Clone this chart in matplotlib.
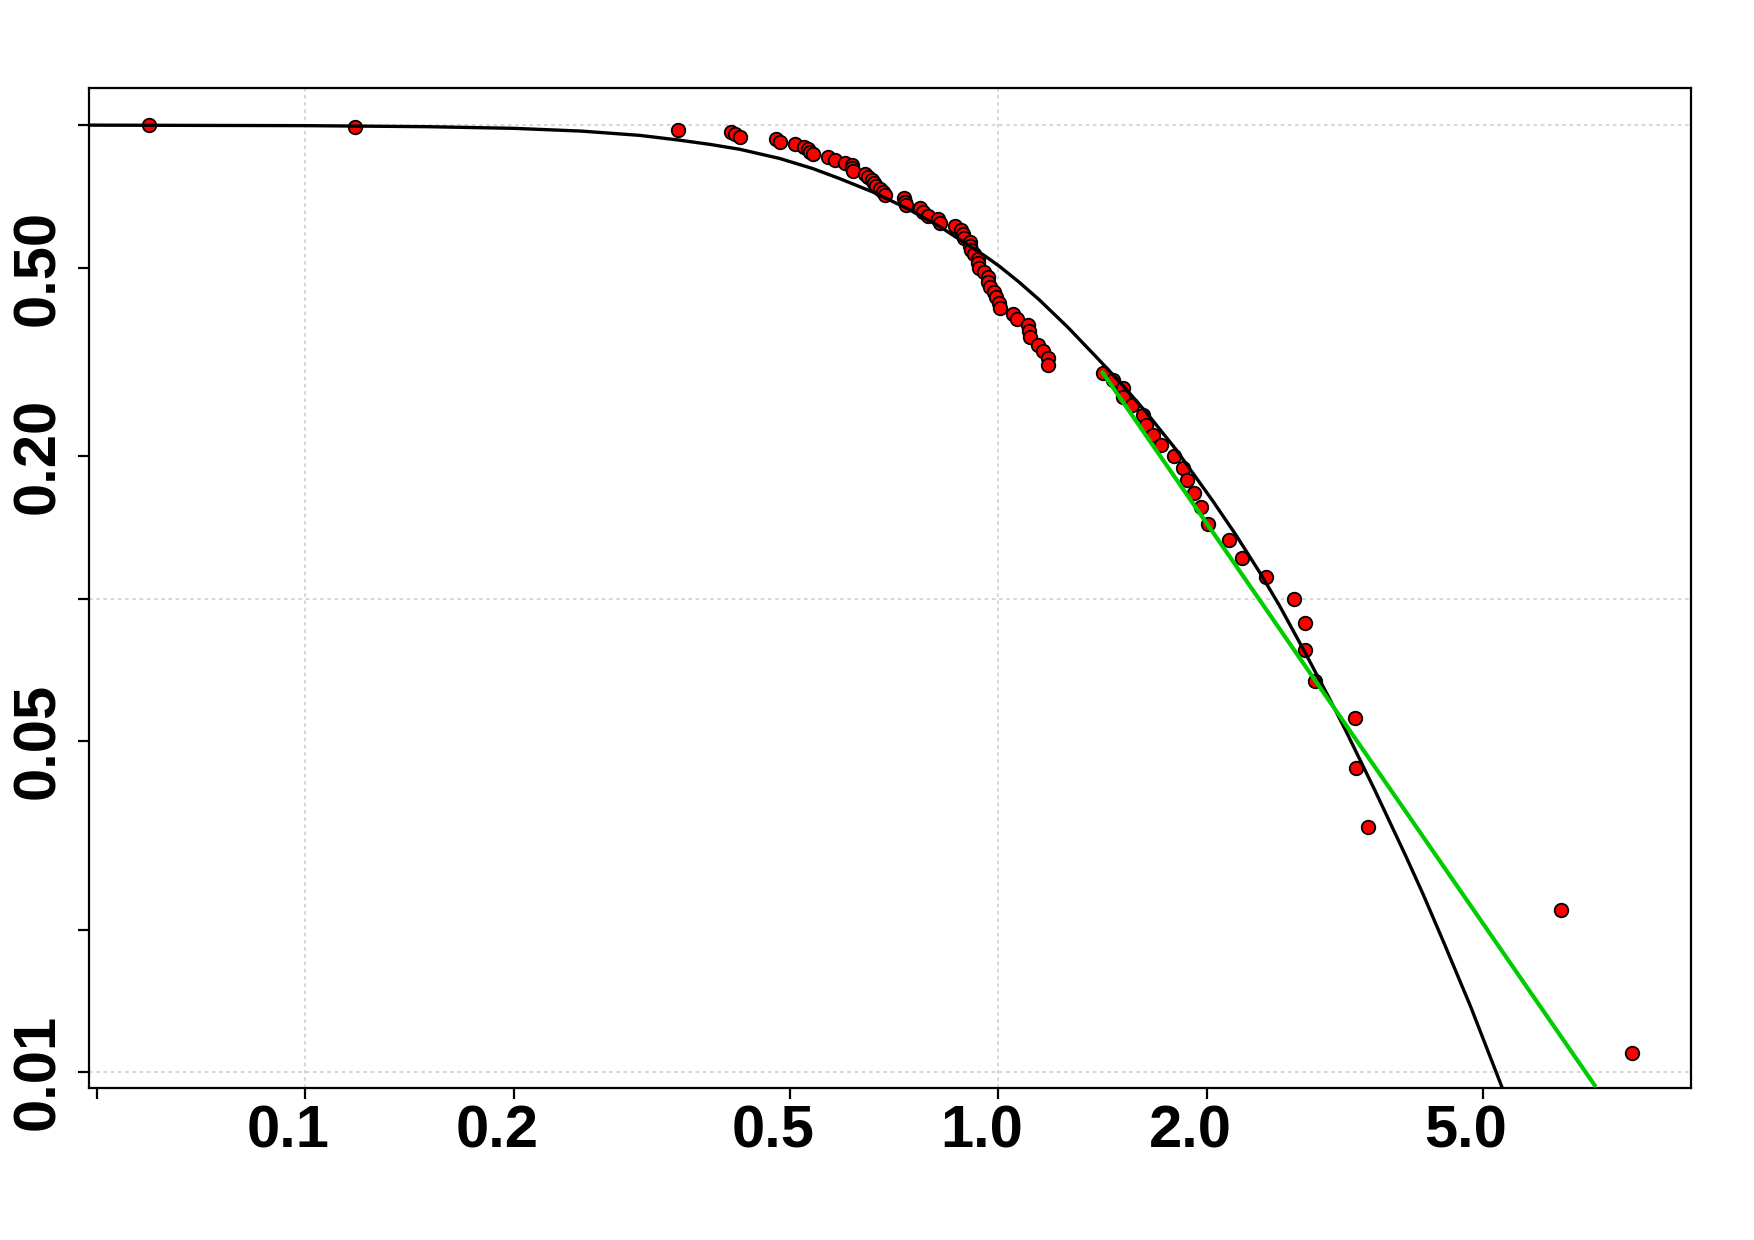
import matplotlib
matplotlib.use('Agg')
import matplotlib.pyplot as plt
from matplotlib.transforms import ScaledTranslation

# empirical survival points (red)
surv_x = [0.0594, 0.1178, 0.3449, 0.4118, 0.4173, 0.4234, 0.4783, 0.4835, 0.5095, 0.5241,
          0.5312, 0.5350, 0.5401, 0.5675, 0.5803, 0.6014, 0.6147, 0.6147, 0.6170, 0.6425,
          0.6483, 0.6568, 0.6620, 0.6667, 0.6750, 0.6815, 0.6868, 0.7298, 0.7323, 0.7364,
          0.7697, 0.7780, 0.7910, 0.8177, 0.8225, 0.8645, 0.8840, 0.8886, 0.8936, 0.9087,
          0.9110, 0.9138, 0.9236, 0.9340, 0.9361, 0.9391, 0.9550, 0.9654, 0.9660, 0.9711,
          0.9871, 0.9926, 1.0037, 1.0060, 1.0491, 1.0632, 1.1025, 1.1088, 1.1126, 1.1401,
          1.1614, 1.1785, 1.1811, 1.4145, 1.4622, 1.5115, 1.5146, 1.5572, 1.6186, 1.6332,
          1.6693, 1.7184, 1.7899, 1.8469, 1.8687, 1.9131, 1.9604, 2.0097, 2.1542, 2.2469,
          2.4324, 2.6727, 2.7728, 2.7728, 2.8661, 3.2734, 3.2772, 3.4136, 6.4925, 8.2003]
surv_y = [1.000, 0.989, 0.978, 0.967, 0.956, 0.944, 0.933, 0.922, 0.911, 0.900,
          0.889, 0.878, 0.867, 0.856, 0.844, 0.833, 0.822, 0.811, 0.800, 0.789,
          0.778, 0.767, 0.756, 0.744, 0.733, 0.722, 0.711, 0.700, 0.689, 0.678,
          0.667, 0.656, 0.644, 0.633, 0.622, 0.611, 0.600, 0.589, 0.578, 0.567,
          0.556, 0.544, 0.533, 0.522, 0.511, 0.500, 0.489, 0.478, 0.467, 0.456,
          0.444, 0.433, 0.422, 0.411, 0.400, 0.389, 0.378, 0.367, 0.356, 0.344,
          0.333, 0.322, 0.311, 0.300, 0.289, 0.278, 0.267, 0.256, 0.244, 0.233,
          0.222, 0.211, 0.200, 0.189, 0.178, 0.167, 0.156, 0.144, 0.133, 0.122,
          0.111, 0.100, 0.089, 0.078, 0.067, 0.056, 0.044, 0.033, 0.022, 0.011]

# fitted curve (black)
fit_x = [0.0488, 0.100, 0.150, 0.200, 0.250, 0.3037, 0.3449, 0.384, 0.4232, 0.4835,
         0.5401, 0.5899, 0.6591, 0.7364, 0.8222, 0.9603, 1.004, 1.070, 1.146, 1.260,
         1.384, 1.500, 1.633, 1.800, 2.038, 2.200, 2.379, 2.543, 2.773, 3.000,
         3.173, 3.500, 3.873, 4.100, 4.400, 4.800, 5.339, 5.500]
fit_y = [0.9995, 0.997, 0.992, 0.984, 0.971, 0.951, 0.930, 0.910, 0.889, 0.850,
         0.809, 0.771, 0.722, 0.668, 0.611, 0.527, 0.503, 0.4667, 0.4274, 0.374,
         0.324, 0.2859, 0.2478, 0.2075, 0.161, 0.1366, 0.1141, 0.0969, 0.0768, 0.0618,
         0.0526, 0.0392, 0.0286, 0.0238, 0.0187, 0.0138, 0.00925, 0.0083]

# tail line (green)
tail_x = [1.4145, 7.25]
tail_y = [0.300, 0.0094]

xticks = [0.05, 0.1, 0.2, 0.5, 1.0, 2.0, 5.0]
xlabels = ['', '0.1', '0.2', '0.5', '1.0', '2.0', '5.0']
yticks = [1.0, 0.5, 0.2, 0.1, 0.05, 0.02, 0.01]
ylabels = ['', '0.50', '0.20', '', '0.05', '', '0.01']
grid_x = [0.1, 1.0]
grid_y = [0.01, 0.1, 1.0]

plt.rcParams['font.family'] = ['Liberation Sans', 'DejaVu Sans']

fig = plt.figure(figsize=(17.54, 12.40), dpi=100)
ax = fig.add_axes([0.0510, 0.1226, 0.9131, 0.8064])
ax.set_xscale('log')
ax.set_yscale('log')
ax.set_xlim(0.0488, 9.99)
ax.set_ylim(0.00927, 1.197)

for g in grid_x:
    ax.axvline(g, color='#D3D3D3', lw=1.3, ls=(0, (2, 2)), zorder=0)
for g in grid_y:
    ax.axhline(g, color='#D3D3D3', lw=1.3, ls=(0, (2, 2)), zorder=0)

ax.scatter(surv_x, surv_y, s=95, c='red', edgecolors='black', linewidths=1.3, zorder=3)
ax.plot(fit_x, fit_y, color='black', lw=2.4, zorder=4)
ax.plot(tail_x, tail_y, color='#00CD00', lw=3.0, zorder=5)

ax.minorticks_off()
ax.set_xticks(xticks)
ax.set_xticklabels(xlabels, fontsize=43, fontweight='bold')
ax.set_yticks(yticks)
ax.set_yticklabels(ylabels, fontsize=43, fontweight='bold', rotation=90, va='center')
ax.tick_params(axis='x', direction='out', length=8, width=1.6, pad=4)
ax.tick_params(axis='y', direction='out', length=8, width=1.6, pad=9)

shift = ScaledTranslation(-17 / 100, 0, fig.dpi_scale_trans)
for lab in ax.get_xticklabels():
    lab.set_transform(lab.get_transform() + shift)

for sp in ax.spines.values():
    sp.set_linewidth(1.6)

fig.savefig('out.png', dpi=100)
